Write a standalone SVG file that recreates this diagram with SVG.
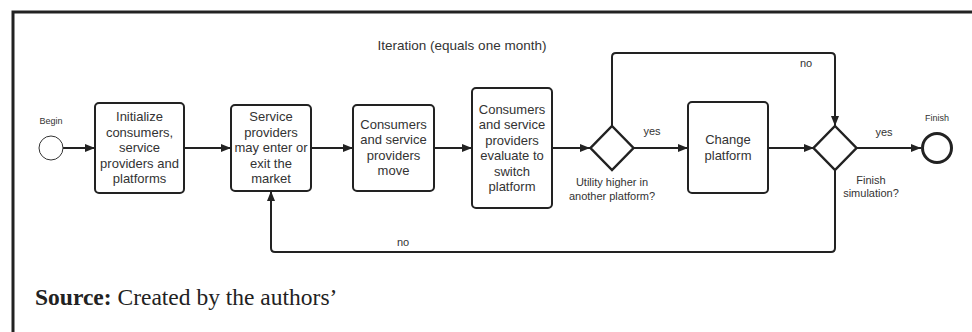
<svg xmlns="http://www.w3.org/2000/svg" width="972" height="332" viewBox="0 0 972 332">
<style>
.box{fill:#fff;stroke:#222;stroke-width:2}
.dia{fill:#fff;stroke:#222;stroke-width:2.5}
.c{fill:none;stroke:#222;stroke-width:2}
.t{font-family:"Liberation Sans",Arial,sans-serif;font-size:13px;fill:#333;text-anchor:middle}
.s{font-family:"Liberation Sans",Arial,sans-serif;font-size:11px;fill:#333;text-anchor:middle}
.xs{font-family:"Liberation Sans",Arial,sans-serif;font-size:9px;fill:#333;text-anchor:middle}
</style>
<defs>
<marker id="a" markerWidth="10" markerHeight="8" refX="10" refY="4" orient="auto" markerUnits="userSpaceOnUse">
<path d="M0,0 L10,4 L0,8 Z" fill="#222"/>
</marker>
</defs>
<rect width="972" height="332" fill="#fff"/>
<path d="M13,332 V12 H972" fill="none" stroke="#222" stroke-width="3"/>
<text class="t" x="462" y="50" style="font-size:13.5px">Iteration (equals one month)</text>

<g id="connectors">
<path class="c" d="M63,148 H95" marker-end="url(#a)"/>
<path class="c" d="M184,148 H231" marker-end="url(#a)"/>
<path class="c" d="M311,148 H353" marker-end="url(#a)"/>
<path class="c" d="M434,148 H472" marker-end="url(#a)"/>
<path class="c" d="M552,148 H590" marker-end="url(#a)"/>
<path class="c" d="M633,148 H688" marker-end="url(#a)"/>
<path class="c" d="M768,148 H814" marker-end="url(#a)"/>
<path class="c" d="M856,148 H921" marker-end="url(#a)"/>
<path class="c" d="M612,126 V57 Q612,53 616,53 H831 Q835,53 835,57 V126" marker-end="url(#a)"/>
<path class="c" d="M835,170 V248 Q835,252 831,252 H275 Q271,252 271,248 V191" marker-end="url(#a)"/>
<text class="s" x="652" y="135">yes</text>
<text class="s" x="806" y="67">no</text>
<text class="s" x="884" y="136">yes</text>
<text class="s" x="403" y="246">no</text>
</g>

<g id="begin">
<circle cx="51" cy="148" r="12" fill="#fff" stroke="#333" stroke-width="1"/>
<text class="xs" x="51" y="124">Begin</text>
</g>

<g id="init">
<rect class="box" x="95" y="103" width="89" height="90" rx="4"/>
<text class="t" x="139.5" y="121">Initialize</text>
<text class="t" x="139.5" y="136.5">consumers,</text>
<text class="t" x="139.5" y="152">service</text>
<text class="t" x="139.5" y="167.5">providers and</text>
<text class="t" x="139.5" y="183">platforms</text>
</g>

<g id="enter">
<rect class="box" x="231" y="105" width="80" height="86" rx="4"/>
<text class="t" x="271" y="121">Service</text>
<text class="t" x="271" y="136.5">providers</text>
<text class="t" x="271" y="152">may enter or</text>
<text class="t" x="271" y="167.5">exit the</text>
<text class="t" x="271" y="183">market</text>
</g>

<g id="move">
<rect class="box" x="353" y="105" width="81" height="86" rx="4"/>
<text class="t" x="393.5" y="128.5">Consumers</text>
<text class="t" x="393.5" y="144">and service</text>
<text class="t" x="393.5" y="159.5">providers</text>
<text class="t" x="393.5" y="175">move</text>
</g>

<g id="evaluate">
<rect class="box" x="472" y="88" width="80" height="120" rx="4"/>
<text class="t" x="512" y="113.5">Consumers</text>
<text class="t" x="512" y="129">and service</text>
<text class="t" x="512" y="144.5">providers</text>
<text class="t" x="512" y="160">evaluate to</text>
<text class="t" x="512" y="175.5">switch</text>
<text class="t" x="512" y="191">platform</text>
</g>

<g id="utility">
<path class="dia" d="M612,126 L633.5,148 L612,170 L590.5,148 Z"/>
<text class="s" x="612" y="186">Utility higher in</text>
<text class="s" x="612" y="200">another platform?</text>
</g>

<g id="change">
<rect class="box" x="688" y="102" width="80" height="91" rx="4"/>
<text class="t" x="728" y="144">Change</text>
<text class="t" x="728" y="159.5">platform</text>
</g>

<g id="finishq">
<path class="dia" d="M835,126 L856.5,148 L835,170 L813.5,148 Z"/>
<text class="s" x="871" y="184">Finish</text>
<text class="s" x="871" y="197">simulation?</text>
</g>

<g id="finish">
<circle cx="937" cy="148" r="14.5" fill="#fff" stroke="#222" stroke-width="3"/>
<text class="xs" x="937" y="121">Finish</text>
</g>

<text x="35" y="305" style="font-family:'Liberation Serif','Times New Roman',serif;font-size:23.5px;fill:#222"><tspan font-weight="bold">Source:</tspan> Created by the authors’</text>
</svg>
